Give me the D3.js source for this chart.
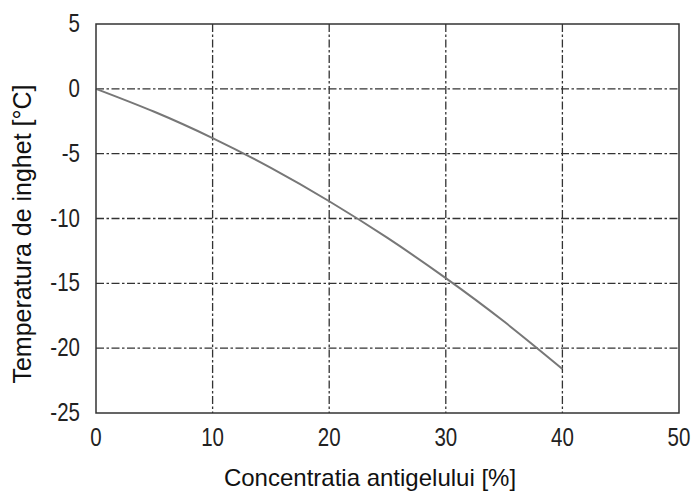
<!DOCTYPE html>
<html>
<head>
    <meta charset="utf-8">
    <style>
        body { margin: 0; background: #fff; }
    </style>
</head>
<body>
    <svg width="694" height="492"></svg>
    <script src="https://d3js.org/d3.v7.min.js"></script>
    <script>
        // concentration [%] and freezing temperature [°C]
        let concentration = [0, 5, 10, 15, 20, 25, 30, 35, 40];
        let freezeTemp = [0, -1.77, -3.8, -6.1, -8.67, -11.5, -14.6, -17.95, -21.6];
        let xTicks = [0, 10, 20, 30, 40, 50];
        let yTicks = [5, 0, -5, -10, -15, -20, -25];

        let svg = d3.select("svg");
        let pLeft = 96, pRight = 679, pTop = 24, pBottom = 413;
        let x = d3.scaleLinear().domain([0, 50]).range([pLeft, pRight]);
        let y = d3.scaleLinear().domain([-25, 5]).range([pBottom, pTop]);

        let grid = svg.append("g")
            .attr("stroke", "#333")
            .attr("stroke-width", 1.3)
            .attr("stroke-dasharray", "8,2.5,2.5,2.5");
        grid.selectAll(".gx")
            .data(xTicks.slice(1, -1))
            .enter()
            .append("line")
            .attr("x1", d => x(d)).attr("x2", d => x(d))
            .attr("y1", pTop).attr("y2", pBottom);
        grid.selectAll(".gy")
            .data(yTicks.slice(1, -1))
            .enter()
            .append("line")
            .attr("x1", pLeft).attr("x2", pRight)
            .attr("y1", d => y(d)).attr("y2", d => y(d));

        let line = d3.line()
            .x((d, i) => x(concentration[i]))
            .y(d => y(d))
            .curve(d3.curveNatural);
        svg.append("path")
            .attr("d", line(freezeTemp))
            .attr("fill", "none")
            .attr("stroke", "#777")
            .attr("stroke-width", 2);

        svg.append("rect")
            .attr("x", pLeft).attr("y", pTop)
            .attr("width", pRight - pLeft).attr("height", pBottom - pTop)
            .attr("fill", "none")
            .attr("stroke", "#333")
            .attr("stroke-width", 1.5);

        // tick digits in the picture are tall and narrow
        let tickFont = "'Liberation Sans', Arial, sans-serif";
        svg.selectAll(".xl")
            .data(xTicks)
            .enter()
            .append("text")
            .attr("transform", d => `translate(${x(d)},446) scale(0.82,1)`)
            .attr("text-anchor", "middle")
            .style("font-family", tickFont)
            .style("font-size", "25px")
            .attr("fill", "#222")
            .text(d => d);
        svg.selectAll(".yl")
            .data(yTicks)
            .enter()
            .append("text")
            .attr("transform", d => `translate(80,${y(d) + 8}) scale(0.82,1)`)
            .attr("text-anchor", "end")
            .style("font-family", tickFont)
            .style("font-size", "25px")
            .attr("fill", "#222")
            .text(d => d);

        svg.append("text")
            .attr("x", 370)
            .attr("y", 486)
            .attr("text-anchor", "middle")
            .style("font-family", "'Liberation Sans', Arial, sans-serif")
            .style("font-size", "24px")
            .attr("fill", "#111")
            .text("Concentratia antigelului [%]");
        svg.append("text")
            .attr("transform", "translate(31,234) rotate(-90)")
            .attr("text-anchor", "middle")
            .style("font-family", "'Liberation Sans', Arial, sans-serif")
            .style("font-size", "25px")
            .attr("fill", "#111")
            .text("Temperatura de inghet [°C]");
    </script>
</body>
</html>
